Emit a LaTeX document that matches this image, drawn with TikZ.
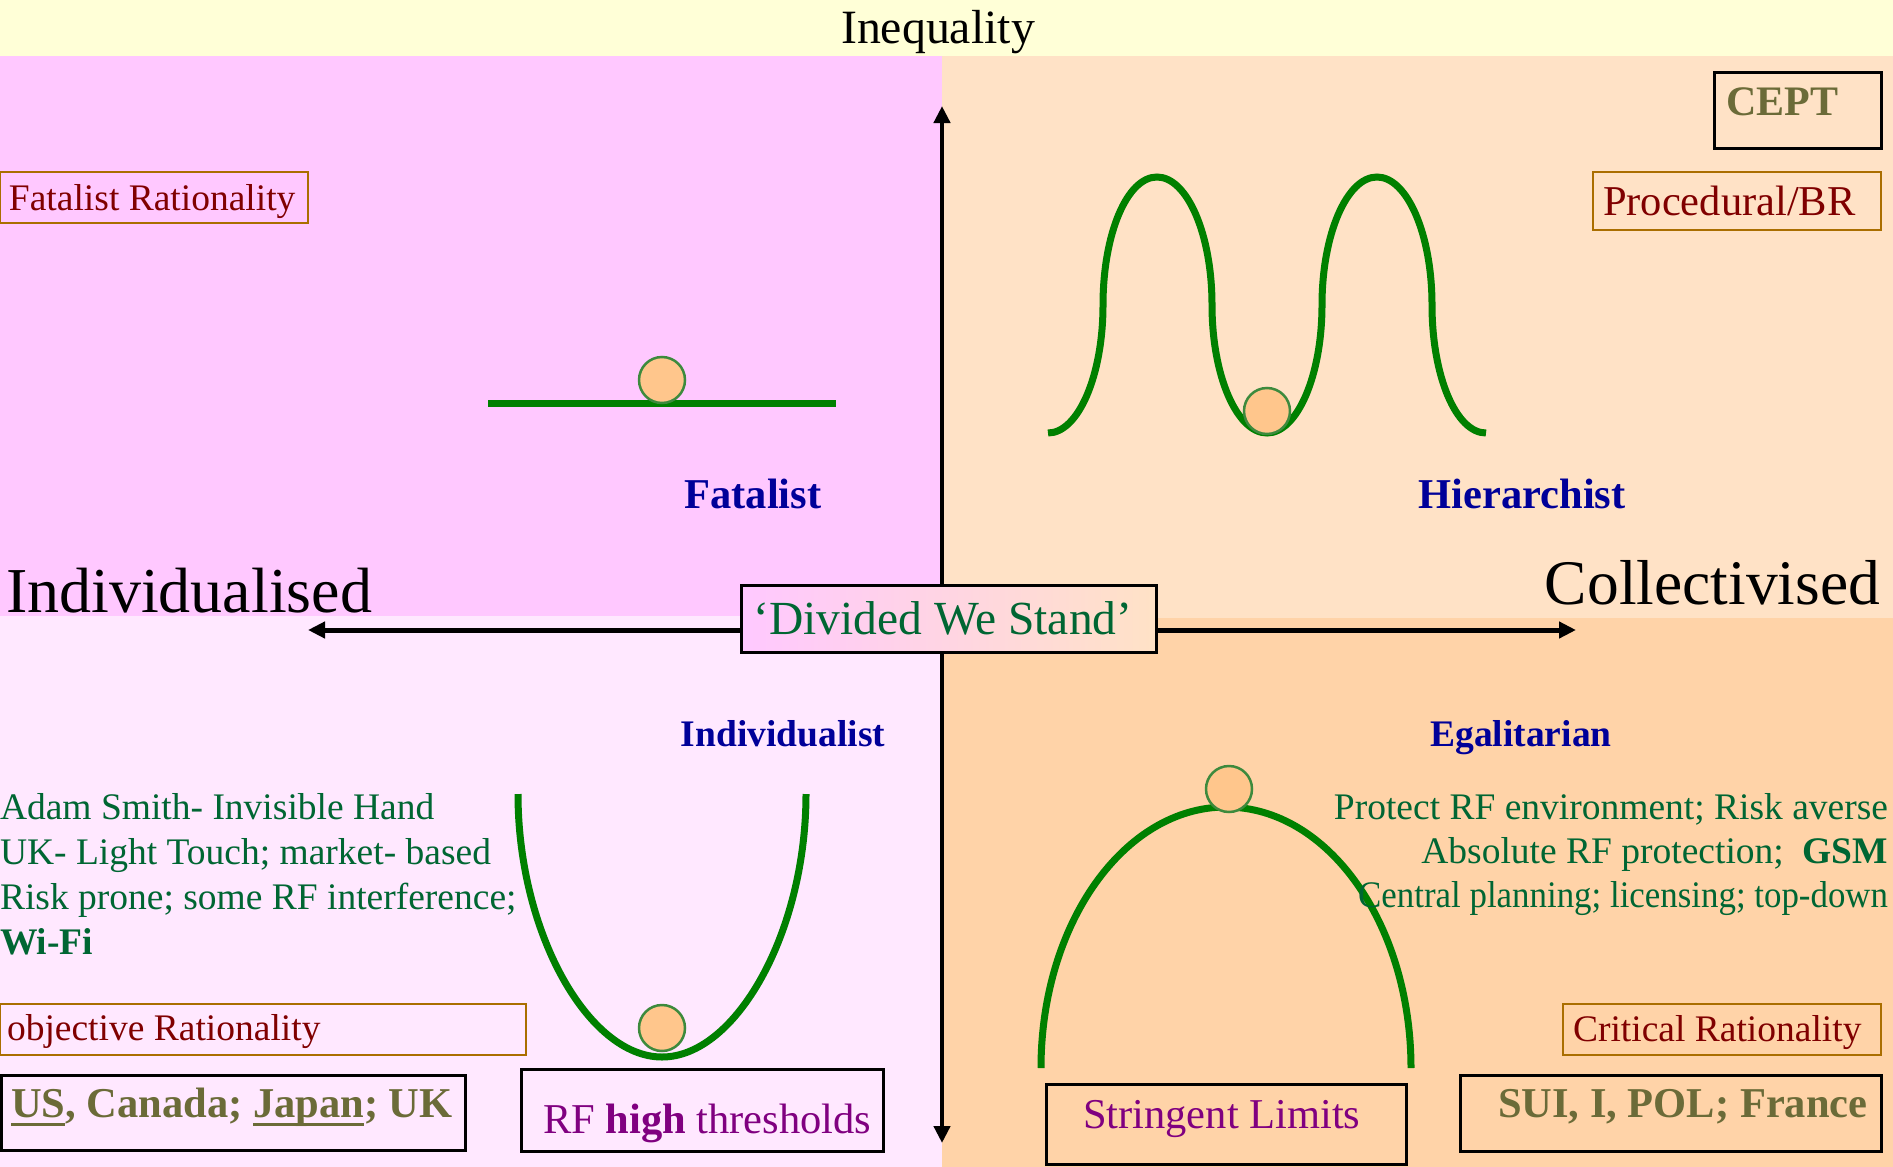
\documentclass[tikz,border=0pt]{standalone}
\usepackage{fontspec}
\setmainfont{Liberation Serif}
\usetikzlibrary{arrows.meta}
\definecolor{bgyellow}{HTML}{FFFFD7}
\definecolor{bgpink}{HTML}{FFC8FF}
\definecolor{bgpeach}{HTML}{FFE2C6}
\definecolor{bglpink}{HTML}{FFE8FF}
\definecolor{bgorange}{HTML}{FFD3A8}
\definecolor{txgreen}{HTML}{006633}
\definecolor{txred}{HTML}{800000}
\definecolor{txolive}{HTML}{6B6B38}
\definecolor{txpurple}{HTML}{800080}
\definecolor{txblue}{HTML}{000099}
\definecolor{goldline}{HTML}{AA6E00}
\definecolor{curvegreen}{HTML}{008000}
\definecolor{ballfill}{HTML}{FFC68C}
\definecolor{ballline}{HTML}{3D8A3D}
\newcommand{\ulx}[1]{\setbox0\hbox{#1}\rlap{\rule[-9pt]{\wd0}{3pt}}\box0}
\begin{document}
\begin{tikzpicture}[x=1pt,y=-1pt,
  fsA/.style={font=\fontsize{37.5}{44}\selectfont},
  fsB/.style={font=\fontsize{42.5}{50}\selectfont},
  fsBb/.style={font=\fontsize{42.5}{50}\selectfont\bfseries},
  fsAb/.style={font=\fontsize{37.5}{44}\selectfont\bfseries},
  txt/.style={inner sep=0pt, outer sep=0pt},
  blackbox/.style={draw=black, line width=2.5pt, inner sep=0pt, anchor=north west},
  goldbox/.style={draw=goldline, line width=2pt, inner sep=0pt, anchor=north west},
  curve/.style={draw=curvegreen, line width=7pt},
  ball/.style={circle, minimum size=46pt, inner sep=0pt, fill=ballfill, draw=ballline, line width=2.5pt},
  axisarrow/.style={line width=4.5pt, {Triangle[length=17pt,width=16pt]}-{Triangle[length=17pt,width=16pt]}}
]
\useasboundingbox (0,0) rectangle (1893,1167);
% backgrounds
\fill[bgyellow] (0,0) rectangle (1893,56);
\fill[bgpink] (0,56) rectangle (942,616);
\fill[bgpeach] (942,56) rectangle (1893,618);
\fill[bglpink] (0,616) rectangle (942,1167);
\fill[bgorange] (942,618) rectangle (1893,1167);

% axes
\coordinate (ntop) at (942,106);
\coordinate (nbot) at (942,1143);
\coordinate (wleft) at (308,630);
\coordinate (eright) at (1576,630);
\draw[axisarrow] (nbot) -- (ntop);
\draw[axisarrow, line width=5pt] (wleft) -- (eright);

% title labels
\node[txt, anchor=base, font=\fontsize{47.8}{54}\selectfont] (ineq) at (938,43) {Inequality};
\node[txt, anchor=base west, font=\fontsize{64}{70}\selectfont] (indiv) at (6,612) {Individualised};
\node[txt, anchor=base east, font=\fontsize{63.5}{70}\selectfont] (coll) at (1880,604) {Collectivised};

% divided we stand
\node[blackbox, line width=3pt, minimum width=415pt, minimum height=67pt, left color=bgpink, right color=bgpeach] (dbox) at (740,584) {};
\node[txt, anchor=base, text=txgreen, font=\fontsize{47.5}{54}\selectfont] (dws) at (943,634) {‘Divided We Stand’};

% quadrant labels
\node[txt, anchor=base, fsBb, text=txblue] (fatal) at (753,508) {Fatalist};
\node[txt, anchor=base, fsBb, text=txblue] (hier) at (1522,508) {Hierarchist};
\node[txt, anchor=base, fsAb, text=txblue] (indl) at (783,746) {Individualist};
\node[txt, anchor=base, fsAb, text=txblue] (egal) at (1521,746) {Egalitarian};

% top-left box
\node[goldbox, minimum width=308pt, minimum height=51pt] (frbox) at (-1,171) {};
\node[txt, anchor=base west, fsA, text=txred] (fr) at (9,210) {Fatalist Rationality};

% top-right boxes
\node[blackbox, minimum width=167pt, minimum height=76pt] (ceptbox) at (1713,71) {};
\node[txt, anchor=base west, font=\fontsize{42}{48}\selectfont\bfseries, text=txolive] (cept) at (1726,115) {CEPT};
\node[goldbox, minimum width=288pt, minimum height=58pt] (pbrbox) at (1592,171) {};
\node[txt, anchor=base west, fsB, text=txred] (pbr) at (1603,215) {Procedural/BR};

% fatalist curve
\coordinate (fl) at (488,403.5);
\coordinate (fr2) at (836,403.5);
\draw[curve] (fl) -- (fr2);
\node[ball] (fball) at (662,380) {};

% hierarchist curve
\coordinate (h0) at (1048,433);
\coordinate (h8) at (1486,433);
\draw[curve] (h0) .. controls (1078,433) and (1103,376) .. (1103,305)
  .. controls (1103,234) and (1127,177) .. (1157,177)
  .. controls (1187,177) and (1212,234) .. (1212,305)
  .. controls (1212,376) and (1237,433) .. (1267,433)
  .. controls (1297,433) and (1322,376) .. (1322,305)
  .. controls (1322,234) and (1347,177) .. (1377,177)
  .. controls (1407,177) and (1432,234) .. (1432,305)
  .. controls (1432,376) and (1456,433) .. (h8);
\node[ball] (hball) at (1267,411) {};

% individualist curve
\coordinate (i0) at (518,794);
\coordinate (i2) at (806,794);
\draw[curve] (i0) .. controls (518,932) and (588,1057) .. (662,1057)
  .. controls (736,1057) and (806,932) .. (i2);
\node[ball] (iball) at (662,1028) {};

% egalitarian curve
\coordinate (e0) at (1041,1068);
\coordinate (e2) at (1411,1068);
\draw[curve] (e0) .. controls (1041,924) and (1124,807) .. (1226,807)
  .. controls (1328,807) and (1411,924) .. (e2);
\node[ball] (eball) at (1229,789) {};

% left text block
\node[txt, anchor=base west, fsA, text=txgreen] (l1) at (0,819) {Adam Smith- Invisible Hand};
\node[txt, anchor=base west, fsA, text=txgreen] (l2) at (0,864) {UK- Light Touch; market- based};
\node[txt, anchor=base west, fsA, text=txgreen] (l3) at (0,909) {Risk prone; some RF interference;};
\node[txt, anchor=base west, fsAb, text=txgreen] (l4) at (0,954) {Wi-Fi};

% right text block
\node[txt, anchor=base east, fsA, text=txgreen] (r1) at (1888,819) {Protect RF environment; Risk averse};
\node[txt, anchor=base east, fsA, text=txgreen] (r2) at (1888,863) {Absolute RF protection;\ \ \textbf{GSM}};
\node[txt, anchor=base east, fsA, text=txgreen] (r3) at (1888,907) {\scalebox{0.93}[1]{Central planning; licensing; top-down}};

% bottom-left boxes
\node[goldbox, minimum width=526pt, minimum height=51pt] (orbox) at (-1,1003) {};
\node[txt, anchor=base west, fsA, text=txred] (or) at (7,1040) {objective Rationality};
\node[blackbox, minimum width=464pt, minimum height=75pt] (usbox) at (0,1074) {};
\node[txt, anchor=base west, fsBb, text=txolive] (us) at (11,1117) {\ulx{US}, Canada; \ulx{Japan}; UK};
\node[blackbox, minimum width=362pt, minimum height=82pt] (rfbox) at (520,1068) {};
\node[txt, anchor=base west, fsB, text=txpurple] (rf) at (543,1133) {RF \textbf{high} thresholds};

% bottom-right boxes
\node[blackbox, minimum width=360pt, minimum height=80pt] (slbox) at (1045,1083) {};
\node[txt, anchor=base west, fsB, text=txpurple] (sl) at (1083,1128) {Stringent Limits};
\node[goldbox, minimum width=318pt, minimum height=51pt] (crbox) at (1562,1003) {};
\node[txt, anchor=base west, fsA, text=txred] (cr) at (1573,1041) {Critical Rationality};
\node[blackbox, minimum width=421pt, minimum height=76pt] (suibox) at (1459,1074) {};
\node[txt, anchor=base west, fsBb, text=txolive] (sui) at (1498,1117) {SUI, I, POL; France};
\end{tikzpicture}
\end{document}
